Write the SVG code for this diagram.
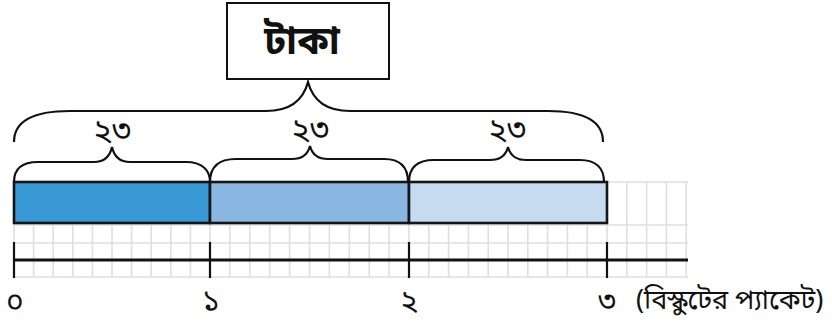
<svg xmlns="http://www.w3.org/2000/svg" width="832" height="325" viewBox="0 0 832 325">
<style>
.bn{font-family:"Noto Sans Bengali","Noto Serif Bengali","Lohit Bengali","Mukti","FreeSans","Noto Sans",sans-serif;fill:#111;}
.grid{stroke:#dedee9;stroke-width:1.6;fill:none;}
.brace{stroke:#111;stroke-width:2.2;fill:none;}
.bar{stroke:#151515;stroke-width:2.6;}
.axis{stroke:#111;stroke-width:3;fill:none;}
.tick{stroke:#111;stroke-width:2.2;fill:none;}
</style>
<rect width="832" height="325" fill="#fff"/>
<g id="grid">
<path class="grid" d="M14,182V277M33.6,182V277M53.2,182V277M72.8,182V277M92.4,182V277M112,182V277M131.6,182V277M151.2,182V277M170.8,182V277M190.4,182V277M210,182V277M229.9,182V277M249.8,182V277M269.7,182V277M289.6,182V277M309.5,182V277M329.4,182V277M349.3,182V277M369.2,182V277M389.1,182V277M409,182V277M428.8,182V277M448.6,182V277M468.4,182V277M488.2,182V277M508,182V277M527.8,182V277M547.6,182V277M567.4,182V277M587.2,182V277M607,182V277M626.8,182V277M646.6,182V277M666.4,182V277M686.2,182V277M14,182H688M14,225H688M14,243H688M14,277H688"/>
</g>
<g id="node-taka">
<rect x="227" y="3" width="162" height="76" fill="#fff" stroke="#111" stroke-width="2"/>
<text class="bn" x="302" y="54" font-size="39" font-weight="bold" text-anchor="middle">টাকা</text>
</g>
<g id="bar">
<rect id="node-seg1" class="bar" x="14" y="182" width="196" height="41" fill="#3a9ad6"/>
<rect id="node-seg2" class="bar" x="210" y="182" width="199" height="41" fill="#89b7e2"/>
<rect id="node-seg3" class="bar" x="409" y="182" width="198" height="41" fill="#c5dcf0"/>
</g>
<g id="connectors">
<path class="brace" d="M14,142C14,121 34,111 70,111L266,111C290,111 303,101 308,82C313,101 326,111 350,111L548,111C583,111 603,121 603,142"/>
<path class="brace" d="M14,182C14,170 21,162 38,162L94,162C105,162 110,156 112,147C114,156 119,162 130,162L186,162C202,162 210,170 210,182"/>
<path class="brace" d="M210,182C210,167 218,159 236,159L292,159C303,159 308,154 310,146C312,154 317,159 328,159L384,159C400,159 408,167 408,182"/>
<path class="brace" d="M409,182C409,167 417,160 434,160L490,160C501,160 506,155 508,147C510,155 515,160 526,160L580,160C596,160 604,168 604,182"/>
</g>
<g id="labels-brace">
<text class="bn" x="112" y="141" font-size="32" text-anchor="middle">২৩</text>
<text class="bn" x="310" y="140" font-size="32" text-anchor="middle">২৩</text>
<text class="bn" x="507" y="140" font-size="32" text-anchor="middle">২৩</text>
</g>
<g id="axis">
<path class="axis" d="M14,260H688"/>
<path class="tick" d="M14,242V278M210,242V278M409,242V278M607,242V278"/>
</g>
<g id="labels-axis">
<text class="bn" x="15" y="311" font-size="30" text-anchor="middle">০</text>
<text class="bn" x="211" y="311" font-size="30" text-anchor="middle">১</text>
<text class="bn" x="409" y="311" font-size="30" text-anchor="middle">২</text>
<text class="bn" x="607" y="311" font-size="30" text-anchor="middle">৩</text>
<text class="bn" x="636" y="309" font-size="27">(বিস্কুটের প্যাকেট)</text>
</g>
</svg>
